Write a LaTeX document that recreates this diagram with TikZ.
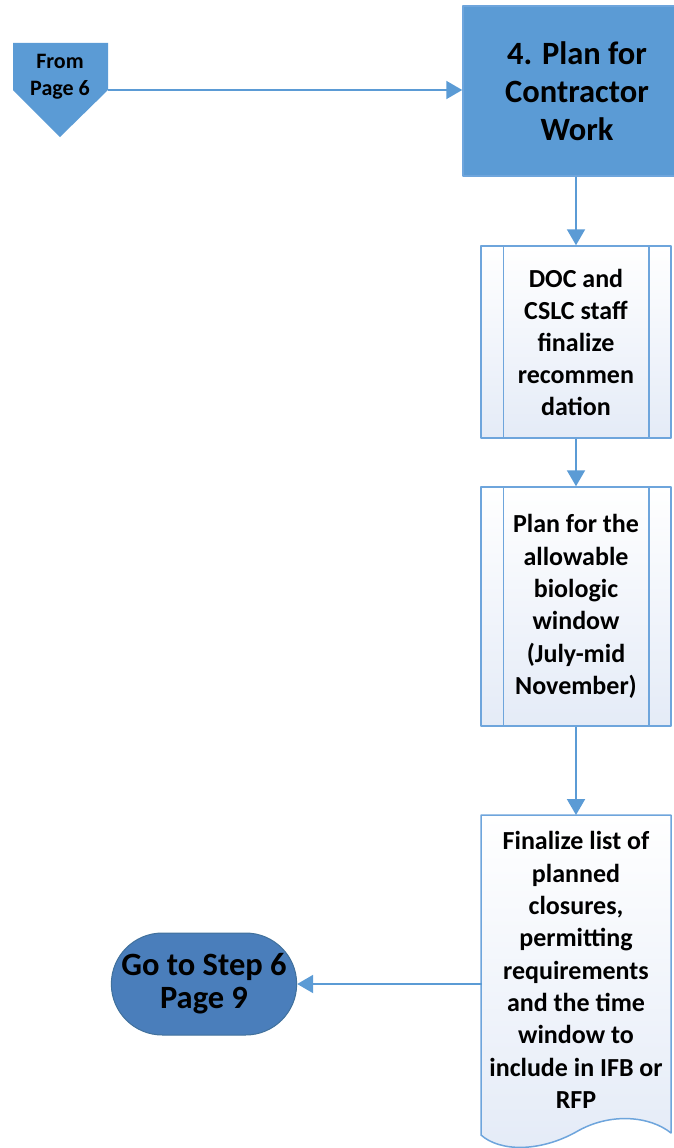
\documentclass[tikz,border=0pt]{standalone}
\usepackage{fontspec}
\setmainfont{Carlito}
\usetikzlibrary{arrows.meta,shapes.misc}
\definecolor{flowblue}{RGB}{91,155,213}
\definecolor{edgeblue}{RGB}{110,165,220}
\definecolor{termblue}{RGB}{74,126,187}
\definecolor{termedge}{RGB}{65,113,156}
\definecolor{paleblue}{RGB}{228,235,247}
\begin{document}
\begin{tikzpicture}[x=1pt, y=-1pt, font=\bfseries, line join=round,
    link/.style={draw=flowblue, line width=2pt, -{Triangle[length=16pt,width=18pt]}},
    stepbox/.style={draw=edgeblue, line width=1.5pt, minimum width=190pt, align=center,
      top color=white, bottom color=paleblue, inner sep=0pt},
    boxline/.style={draw=edgeblue, line width=1.5pt}]
    \useasboundingbox (0,0) rectangle (674,1148);
    % off-page connector
    \fill[flowblue] (13,43) -- (108,43) -- (108,90) -- (60,137) -- (13,90) -- cycle;
    \node[align=center, font=\bfseries\fontsize{22}{27}\selectfont] (from) at (60,77) {From\\Page 6};
    \coordinate (fromc) at (108,90);
    % main step
    \node[fill=flowblue, draw=edgeblue, line width=1.5pt, minimum width=228pt, minimum height=170pt,
      align=center, font=\bfseries\fontsize{32.5}{38}\selectfont] (plan) at (577,91) {4. Plan for\\Contractor\\Work};
    % predefined processes
    \node[stepbox, minimum height=192pt, font=\bfseries\fontsize{26}{32}\selectfont] (rec) at (576,342)
      {DOC and\\CSLC staff\\finalize\\recommen\\dation};
    \node[stepbox, minimum height=239pt, font=\bfseries\fontsize{26}{32.4}\selectfont] (win) at (576,606.5)
      {Plan for the\\allowable\\biologic\\window\\(July-mid\\November)};
    \foreach \b in {rec,win}
      \draw[boxline] ([xshift=23pt]\b.north west) -- ([xshift=23pt]\b.south west)
        ([xshift=-23pt]\b.north east) -- ([xshift=-23pt]\b.south east);
    % document
    \shade[top color=white, bottom color=paleblue, draw=edgeblue, line width=1.5pt]
      (481,815) -- (671,815) -- (671,1133) .. controls (650,1116) and (610,1112) .. (576,1132)
      .. controls (540,1152) and (500,1152) .. (481,1135) -- cycle;
    \node[align=center, minimum width=190pt, minimum height=310pt, inner sep=0pt,
      font=\bfseries\fontsize{26}{32.3}\selectfont] (fin) at (576,970)
      {Finalize list of\\planned\\closures,\\permitting\\requirements\\and the time\\window to\\include in IFB or\\RFP};
    % terminator
    \node[rounded rectangle, fill=termblue, draw=termedge, line width=1pt, minimum width=192pt,
      minimum height=102pt, align=center, font=\bfseries\fontsize{32.5}{33}\selectfont] (goto) at (204,984)
      {Go to Step 6\\Page 9};
    % connectors
    \draw[link] (fromc) -- (fromc -| plan.west);
    \draw[link] (rec.north |- plan.south) -- (rec.north);
    \draw[link] (rec) -- (win);
    \draw[link] (win) -- (win |- 0,815);
    \draw[link] ([xshift=0.75pt]fin.west |- goto.east) -- (goto.east);
\end{tikzpicture}
\end{document}
